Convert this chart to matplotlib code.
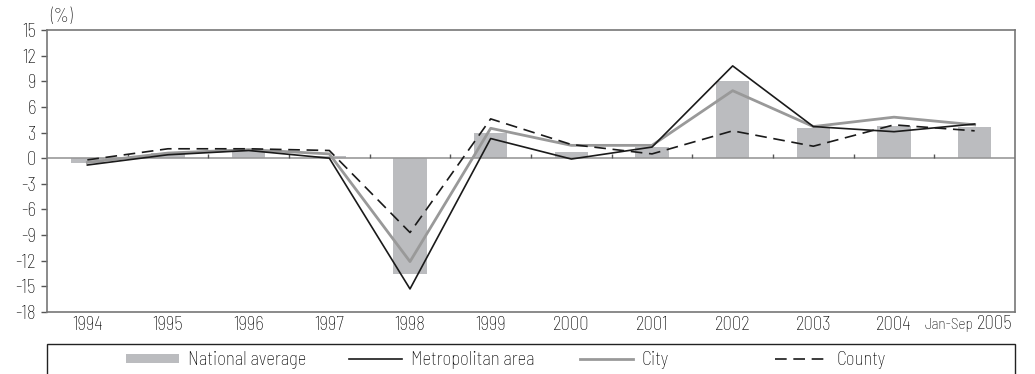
import matplotlib
matplotlib.use("Agg")
import matplotlib.pyplot as plt
import numpy as np
from matplotlib.patches import Rectangle

plt.rcParams['font.family'] = ['Barlow Semi Condensed', 'DejaVu Sans']
plt.rcParams['font.weight'] = 'light'

years = ["1994", "1995", "1996", "1997", "1998", "1999", "2000", "2001", "2002", "2003", "2004", "2005"]
national = [-0.6, 0.6, 0.8, 0.3, -13.6, 3.0, 0.7, 1.3, 9.0, 3.5, 3.8, 3.7]
metro = [-0.8, 0.4, 0.9, 0.0, -15.3, 2.3, -0.1, 1.3, 10.8, 3.7, 3.1, 4.0]
city = [-0.5, 0.6, 1.0, 0.5, -12.1, 3.5, 1.5, 1.5, 7.9, 3.7, 4.8, 3.9]
county = [-0.2, 1.1, 1.1, 0.9, -8.7, 4.6, 1.6, 0.5, 3.2, 1.4, 3.9, 3.2]
yticks = [15, 12, 9, 6, 3, 0, -3, -6, -9, -12, -15, -18]

x = np.arange(len(years))
W, H = 1035, 374
fig = plt.figure(figsize=(W / 100, H / 100), dpi=100)
ax = fig.add_axes([47 / W, 1 - 312 / H, (1015 - 47) / W, (312 - 30) / H])

bars = ax.bar(x, national, width=0.41, color="#bbbcbf", zorder=1, label="National average")
l_metro, = ax.plot(x, metro, color="#1a1a1a", lw=1.2, zorder=4, label="Metropolitan area")
l_city, = ax.plot(x, city, color="#999999", lw=2.0, zorder=3, label="City")
l_county, = ax.plot(x, county, color="#1a1a1a", lw=1.2, dashes=(7, 4), zorder=5, label="County")

ax.axhline(0, color="#999999", lw=1.2, zorder=2)
ax.vlines(x[:-1] + 0.5, 0, 0.45, color="#555555", lw=1.0, zorder=2)

ax.set_xlim(-0.5, len(years) - 0.5)
ax.set_ylim(-18, 15)
ax.set_yticks(yticks)
ax.set_yticklabels([str(v) for v in yticks])
ax.tick_params(axis='y', direction='out', length=4, width=1, color="#555555", labelsize=13.5, pad=4)
ax.set_xticks(x[:-1])
ax.set_xticklabels(years[:-1])
ax.tick_params(axis='x', length=0, labelsize=13.5, pad=3)
for s in ax.spines.values():
    s.set_color("#777777")
    s.set_linewidth(1.2)

# last category label
ax.text(0.997, -0.012, years[-1], transform=ax.transAxes, ha='right', va='top', fontsize=13.5)
ax.text(0.9566, -0.022, "Jan-Sep", transform=ax.transAxes, ha='right', va='top', fontsize=11)

fig.text(50 / W, 1 - 17 / H, "(%)", ha='left', va='center', fontsize=13.5)

# legend box
fig.add_artist(Rectangle((47 / W, -0.05), (1015 - 47) / W, 1 - 344 / H + 0.05,
                         transform=fig.transFigure, fill=False, ec="#222222", lw=1.0, clip_on=False))
legend_x = [126, 349, 580, 775]
for h, lx in zip([bars, l_metro, l_city, l_county], legend_x):
    fig.legend(handles=[h], loc='center left', bbox_to_anchor=(lx / W, 1 - 360 / H),
               frameon=False, fontsize=13.5, handlelength=2.8, handleheight=0.35,
               handletextpad=0.5, borderpad=0, borderaxespad=0)

fig.savefig("out.png", dpi=100)
